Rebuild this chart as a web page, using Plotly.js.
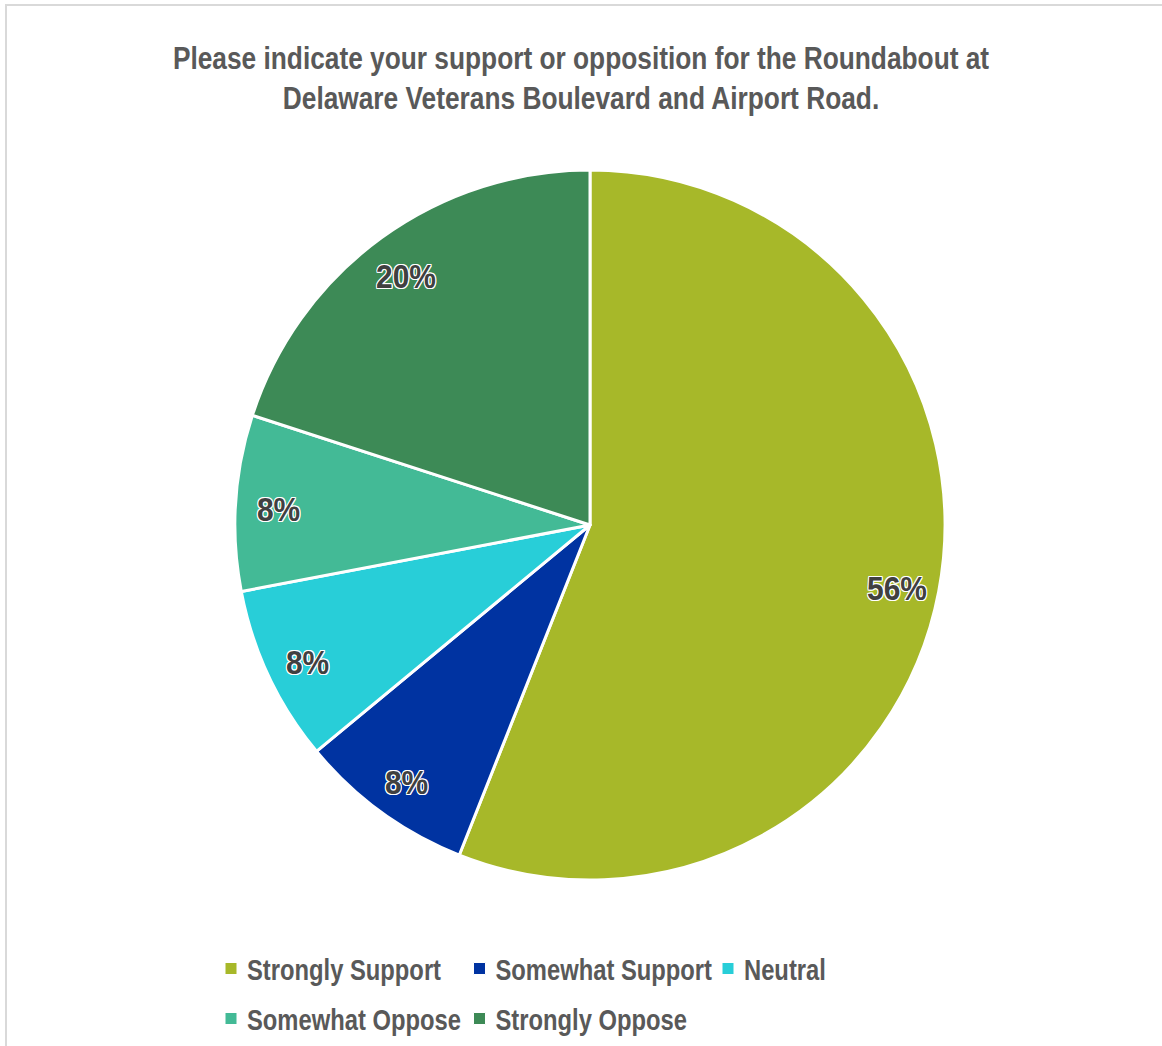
<!DOCTYPE html>
<html>
<head>
<meta charset="utf-8">
<script src="https://cdn.plot.ly/plotly-3.0.1.min.js"></script>
<style>
  html, body { margin: 0; padding: 0; background: #ffffff; }
  #frame { position: absolute; left: 5px; top: 4px; width: 1157px; height: 1042px;
           border-left: 2px solid #d9d9d9; border-top: 2px solid #d9d9d9; box-sizing: border-box; }
  #chart { position: absolute; left: 0; top: 0; width: 1162px; height: 1046px; }
</style>
</head>
<body>
<div id="frame"></div>
<div id="chart"></div>
<script>
const categories = ["Strongly Support", "Somewhat Support", "Neutral", "Somewhat Oppose", "Strongly Oppose"];
const values = [56, 8, 8, 8, 20];
const colors = ["#A7B829", "#0033A1", "#28CED8", "#43BA96", "#3D8A56"];
const chartTitle = "Please indicate your support or opposition for the Roundabout at<br>Delaware Veterans Boulevard and Airport Road.";

const W = 1162, H = 1046;
const cx = 590, cy = 525, R = 355;
const FONT = "'Liberation Sans Narrow', 'Arial Narrow', 'Liberation Sans', Arial, sans-serif";
const NARROW = 0.82;   // horizontal compression to mimic a narrow face

// legend grid (3 columns, Excel-style)
const LEG_COLS = 3, LEG_STRIDE = 248.5, LEG_ROWH = 50, LEG_X0 = 231, LEG_Y0 = 968.5;

const outline = "1px 1px 0 #fff, -1px -1px 0 #fff, 1px -1px 0 #fff, -1px 1px 0 #fff, 0 1px 0 #fff, 1px 0 0 #fff, 0 -1px 0 #fff, -1px 0 0 #fff";

// percentage labels placed along slice bisectors (computed from the data)
const total = values.reduce((a, b) => a + b, 0);
const annotations = [];
let cum = 0;
values.forEach((v, i) => {
  const mid = (cum + v / 2) / total * 2 * Math.PI;
  cum += v;
  const r = 0.88 * R;
  const px = cx + r * Math.sin(mid);
  const py = cy - r * Math.cos(mid) + 4;
  annotations.push({
    x: px / W, y: 1 - py / H, xref: "paper", yref: "paper",
    text: Math.round(v / total * 100) + "%", showarrow: false,
    xanchor: "center", yanchor: "middle",
    font: { family: FONT, size: 34, color: "#404040", weight: "bold", shadow: outline }
  });
});

const trace = {
  type: "pie",
  labels: categories,
  values: values,
  sort: false,
  direction: "clockwise",
  rotation: 0,
  marker: { colors: colors, line: { color: "#ffffff", width: 3 } },
  textinfo: "none",
  hoverinfo: "label+percent",
  domain: { x: [(cx - R) / W, (cx + R) / W], y: [1 - (cy + R) / H, 1 - (cy - R) / H] },
  showlegend: true
};

const layout = {
  width: W, height: H,
  margin: { l: 0, r: 0, t: 0, b: 0 },
  paper_bgcolor: "rgba(0,0,0,0)",
  plot_bgcolor: "rgba(0,0,0,0)",
  title: {
    text: chartTitle,
    x: 0.5, xanchor: "center",
    y: 1 - 69 / H, yanchor: "middle", yref: "container",
    font: { family: FONT, size: 31, color: "#595959", weight: "bold" }
  },
  showlegend: true,
  legend: {
    orientation: "h",
    x: 0.5, xanchor: "center",
    y: 1 - 945 / H, yanchor: "top",
    entrywidthmode: "pixels",
    entrywidth: 204,
    font: { family: FONT, size: 29, color: "#595959", weight: "bold" },
    tracegroupgap: 0
  },
  annotations: annotations
};

function condense(el, s, dx) {
  const x = parseFloat(el.getAttribute("x")) || 0;
  el.setAttribute("transform", "translate(" + (x + (dx || 0)) + ",0) scale(" + s + ",1) translate(" + (-x) + ",0)");
}

function parseTranslate(str) {
  const m = /translate\(\s*([-\d.e]+)[ ,]+([-\d.e]+)\s*\)/.exec(str || "");
  return m ? { x: parseFloat(m[1]), y: parseFloat(m[2]) } : { x: 0, y: 0 };
}

Plotly.newPlot("chart", [trace], layout, { displayModeBar: false, staticPlot: true }).then(gd => {
  gd.querySelectorAll(".gtitle").forEach(t => condense(t, 0.848, 0));
  gd.querySelectorAll(".annotation-text").forEach(t => condense(t, 0.88, 0));
  gd.querySelectorAll(".legendtext").forEach(t => condense(t, NARROW, -4));

  // arrange legend entries in a 3-column grid
  const legend = gd.querySelector(".legend");
  legend.querySelectorAll("[clip-path]").forEach(e => e.removeAttribute("clip-path"));
  legend.querySelectorAll(".legendpoints path").forEach(p => { p.style.strokeWidth = "1px"; });
  const items = Array.from(legend.querySelectorAll(".traces"));
  const base = parseTranslate(items[0].getAttribute("transform"));
  items.forEach((g, i) => {
    const col = i % LEG_COLS, row = Math.floor(i / LEG_COLS);
    g.setAttribute("transform", "translate(" + (base.x + col * LEG_STRIDE) + "," + (base.y + row * LEG_ROWH) + ")");
  });
  // move whole legend so the first marker sits where the reference has it
  const mk = items[0].querySelector(".legendpoints path").getBoundingClientRect();
  const host = gd.getBoundingClientRect();
  const mcx = mk.left + mk.width / 2 - host.left, mcy = mk.top + mk.height / 2 - host.top;
  const lt = parseTranslate(legend.getAttribute("transform"));
  legend.setAttribute("transform", "translate(" + (lt.x + LEG_X0 - mcx) + "," + (lt.y + LEG_Y0 - mcy) + ")");
});
</script>
</body>
</html>
